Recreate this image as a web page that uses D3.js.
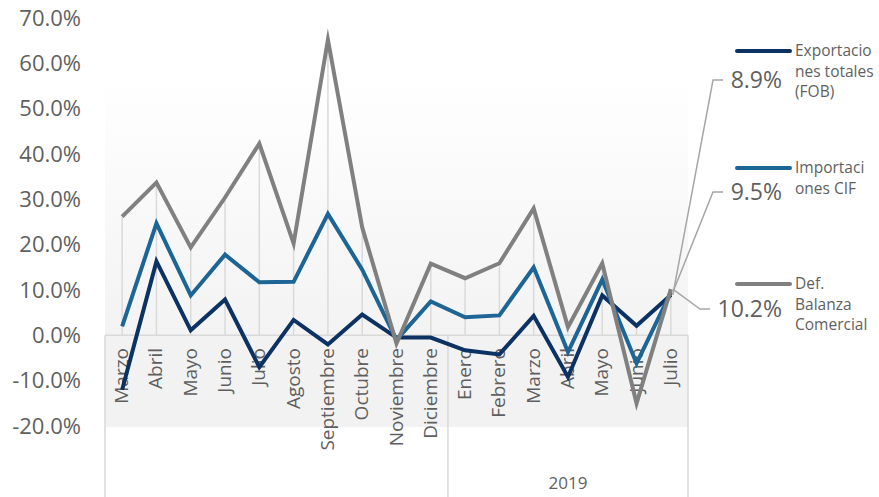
<!DOCTYPE html>
<html>
<head>
<meta charset="utf-8">
<script src="https://cdn.jsdelivr.net/npm/d3@7"></script>
<style>
  html, body { margin: 0; padding: 0; background: #ffffff; }
  svg { display: block; font-family: "Open Sans", "DejaVu Sans", sans-serif; }
</style>
</head>
<body>
<svg id="chart" width="879" height="497"></svg>
<script>
// ---- DATA ----
const months = ["Marzo","Abril","Mayo","Junio","Julio","Agosto","Septiembre","Octubre","Noviembre","Diciembre",
                "Enero","Febrero","Marzo","Abril","Mayo","Junio","Julio"];
const years = [{label: "2018", start: 0, end: 9}, {label: "2019", start: 10, end: 16}];
const exportaciones = [-12.0, 16.3, 1.1, 7.9, -7.0, 3.4, -2.0, 4.6, -0.5, -0.5, -3.3, -4.2, 4.3, -9.2, 8.8, 2.1, 8.9];
const importaciones = [2.0, 24.7, 8.8, 17.8, 11.7, 11.8, 26.8, 14.5, -1.0, 7.5, 4.0, 4.4, 15.0, -3.7, 12.3, -6.2, 9.5];
const deficit = [26.2, 33.7, 19.4, 30.4, 42.3, 20.3, 65.2, 23.8, -1.8, 15.8, 12.6, 15.9, 28.0, 1.8, 15.9, -15.0, 10.2];
const seriesNames = [["Exportacio","nes totales","(FOB)"], ["Importaci","ones CIF"], ["Def.","Balanza","Comercial"]];
const yTicks = [-20, -10, 0, 10, 20, 30, 40, 50, 60, 70];
const lastLabels = ["8.9%", "9.5%", "10.2%"];

// ---- LAYOUT ----
const svg = d3.select("#chart");
const plotLeft = 105, plotRight = 688, plotTop = 71, boxBottom = 427;
const colors = ["#0b3262", "#1c6594", "#808080"];
const textColor = "#5f5f5f";

const y = d3.scaleLinear().domain([-20, 70]).range([426, 18]);
const x = d3.scaleBand().domain(d3.range(months.length)).range([plotLeft, plotRight]);
const cx = i => x(i) + x.bandwidth() / 2;
const y0 = y(0);

// background gradient
const defs = svg.append("defs");
const grad = defs.append("linearGradient").attr("id", "bg").attr("x1", 0).attr("y1", 0).attr("x2", 0).attr("y2", 1);
grad.append("stop").attr("offset", "0%").attr("stop-color", "#ffffff");
grad.append("stop").attr("offset", "100%").attr("stop-color", "#f3f3f3");

svg.append("rect").attr("x", plotLeft).attr("y", plotTop).attr("width", plotRight - plotLeft)
   .attr("height", y0 - plotTop).attr("fill", "url(#bg)");
svg.append("rect").attr("x", plotLeft).attr("y", y0).attr("width", plotRight - plotLeft)
   .attr("height", boxBottom - y0).attr("fill", "#f2f2f2");

// drop lines
const allSeries = [exportaciones, importaciones, deficit];
svg.append("g").selectAll("line").data(months).join("line")
  .attr("x1", (d, i) => cx(i)).attr("x2", (d, i) => cx(i))
  .attr("y1", (d, i) => y(Math.max(0, d3.max(allSeries, s => s[i]))))
  .attr("y2", y0)
  .attr("stroke", "#dadada").attr("stroke-width", 1.5);

// category axis line
svg.append("line").attr("x1", plotLeft).attr("x2", plotRight).attr("y1", y0).attr("y2", y0)
   .attr("stroke", "#d9d9d9").attr("stroke-width", 1.5);

// group separators
const sepX = [plotLeft, x(years[1].start), plotRight];
svg.append("g").selectAll("line").data(sepX).join("line")
  .attr("x1", d => d).attr("x2", d => d).attr("y1", y0).attr("y2", 497)
  .attr("stroke", "#d9d9d9").attr("stroke-width", 1.5);

// y axis labels
svg.append("g").selectAll("text").data(yTicks).join("text")
  .attr("x", 81).attr("y", d => y(d)).attr("dy", "0.35em")
  .attr("text-anchor", "end").attr("fill", textColor).attr("font-size", 22)
  .text(d => d.toFixed(1) + "%");

// month labels (rotated)
svg.append("g").selectAll("text").data(months).join("text")
  .attr("transform", (d, i) => `translate(${cx(i) + 6},${348}) rotate(-90)`)
  .attr("text-anchor", "end").attr("fill", textColor).attr("font-size", 19)
  .text(d => d);

// year labels
svg.append("g").selectAll("text").data(years).join("text")
  .attr("x", d => (x(d.start) + x(d.end) + x.bandwidth()) / 2)
  .attr("y", (d, i) => i === 0 ? 509 : 489)
  .attr("text-anchor", "middle").attr("fill", textColor).attr("font-size", 17)
  .text(d => d.label);

// lines
const line = d3.line().x((d, i) => cx(i)).y(d => y(d));
allSeries.forEach((s, k) => {
  svg.append("path").datum(s).attr("d", line).attr("fill", "none")
     .attr("stroke", colors[k]).attr("stroke-width", 4).attr("stroke-linejoin", "miter")
     .attr("stroke-miterlimit", 10);
});

// annotation leader lines + labels for last point
const last = months.length - 1;
const annY = [80, 192, 309];
allSeries.forEach((s, k) => {
  const px = cx(last) + 2, py = y(s[last]);
  const elbowX = k === 2 ? 700 : 713;
  svg.append("polyline")
     .attr("points", `${px},${py} ${elbowX},${annY[k]} ${elbowX + 10},${annY[k]}`)
     .attr("fill", "none").attr("stroke", "#a6a6a6").attr("stroke-width", 1.5);
  svg.append("text").attr("x", 782).attr("y", annY[k]).attr("dy", "0.35em")
     .attr("text-anchor", "end").attr("fill", textColor).attr("font-size", 23)
     .text(lastLabels[k]);
});

// legend
const legY = [51, 168, 284];
seriesNames.forEach((lines, k) => {
  svg.append("line").attr("x1", 737).attr("x2", 790).attr("y1", legY[k]).attr("y2", legY[k])
     .attr("stroke", colors[k]).attr("stroke-width", 4).attr("stroke-linecap", "round");
  const t = svg.append("text").attr("x", 795).attr("y", legY[k]).attr("fill", textColor).attr("font-size", 15.5);
  lines.forEach((l, j) => {
    t.append("tspan").attr("x", 795).attr("y", legY[k] + j * 20.5).attr("dy", "0.35em").text(l);
  });
});
</script>
</body>
</html>
